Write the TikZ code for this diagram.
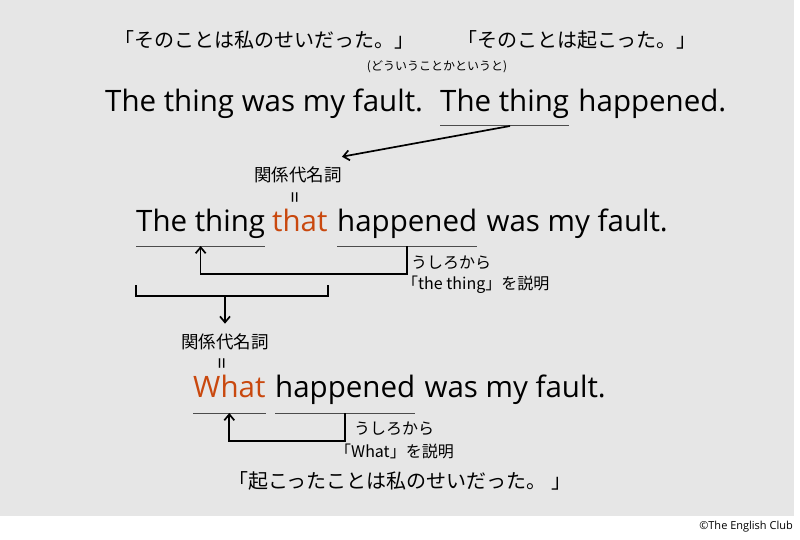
\documentclass[tikz,border=0pt]{standalone}
\usepackage{fontspec}
\setmainfont{Open Sans}
\newfontfamily\jp{Noto Sans CJK JP}
\usetikzlibrary{positioning,arrows.meta}
\definecolor{bggray}{RGB}{230,230,230}
\definecolor{relword}{RGB}{201,72,14}
\tikzset{
  en/.style={inner sep=0pt, font=\fontsize{29.5}{34}\selectfont},
  jpbig/.style={inner sep=0pt, font=\jp\fontsize{20}{24}\selectfont},
  jpmid/.style={inner sep=0pt, font=\jp\fontsize{17.5}{21}\selectfont},
  jpsm/.style={inner sep=0pt, font=\jp\fontsize{16}{19}\selectfont},
  vequal/.style={inner sep=0pt, rotate=90, font=\fontsize{21}{21}\selectfont},
  uline/.style={line width=1pt, black!70},
  conn/.style={line width=1.7pt, -{Straight Barb[length=6pt,width=10pt]}},
}
\begin{document}
\begin{tikzpicture}[x=1pt,y=-1pt]
\useasboundingbox (0,0) rectangle (800,540);
\fill[bggray] (0,0) rectangle (794,516);
% glosses on top
\node[jpbig] (g1) at (264,40) {「そのことは私のせいだった。」};
\node[jpbig] (g2) at (577,40) {「そのことは起こった。」};
\node[inner sep=0pt, font=\jp\fontsize{12}{14}\selectfont] (g3) at (437,67) {(どういうことかというと)};
% first line
\node[en, anchor=base west] (s1a) at (105,112) {The thing was my fault.};
\node[en, anchor=base west] (s1b) at (440,112) {The thing};
\node[en, base right=9pt of s1b] (s1c) {happened.};
\draw[uline] ([yshift=-14pt]s1b.base west) -- ([yshift=-14pt]s1b.base east);
\node[jpmid] (kw1) at (298,175) {関係代名詞};
\node[vequal] (eq1) at (297,197) {=};
\draw[conn] ([xshift=70pt,yshift=-14pt]s1b.base west) -- ([yshift=10pt]kw1.north east);
% second line
\node[en, anchor=base west] (s2a) at (136,231) {The thing};
\node[en, anchor=base west, text=relword] (s2b) at (272,231) {that};
\node[en, anchor=base west] (s2c) at (337,231) {happened};
\node[en, base right=9pt of s2c] (s2d) {was my fault.};
\draw[uline] ([yshift=-15pt]s2a.base west) -- ([yshift=-15pt]s2a.base east);
\draw[uline] ([yshift=-15pt]s2c.base west) -- ([yshift=-15pt]s2c.base east);
\draw[conn] ([yshift=-15pt]s2c.base) -- ++(0,28) -| ([yshift=-15pt]s2a.base);
\node[jpsm, anchor=west] (n2a) at (411,263) {うしろから};
\node[jpsm, anchor=west] (n2b) at (402,285) {「the thing」を説明};
% bracket
\draw[line width=1.7pt] ([yshift=-54pt]s2a.base west) -- ++(0,11) coordinate (bl) -| ([yshift=-54pt]s2b.base east);
\node[jpmid] (kw2) at (225,342) {関係代名詞};
\node[vequal] (eq2) at (224,363) {=};
\draw[conn] (kw2.north |- bl) -- ([yshift=10pt]kw2.north);
% third line
\node[en, anchor=base west, text=relword] (s3a) at (193,397) {What};
\node[en, anchor=base west] (s3b) at (275,397) {happened};
\node[en, base right=9pt of s3b] (s3c) {was my fault.};
\draw[uline] ([yshift=-16pt]s3a.base west) -- ([yshift=-16pt]s3a.base east);
\draw[uline] ([yshift=-16pt]s3b.base west) -- ([yshift=-16pt]s3b.base east);
\draw[conn] ([yshift=-16pt]s3b.base) -- ++(0,28) -| ([yshift=-16pt]s3a.base);
\node[jpsm, anchor=west] (n3a) at (354,429) {うしろから};
\node[jpsm, anchor=west] (n3b) at (335,451) {「What」を説明};
\node[jpbig, anchor=west] (g4) at (228,481) {「起こったことは私のせいだった。 」};
% credit
\node[inner sep=0pt, anchor=east, font=\fontsize{11}{13}\selectfont] (cr) at (793,527) {©The English Club};
\end{tikzpicture}
\end{document}
